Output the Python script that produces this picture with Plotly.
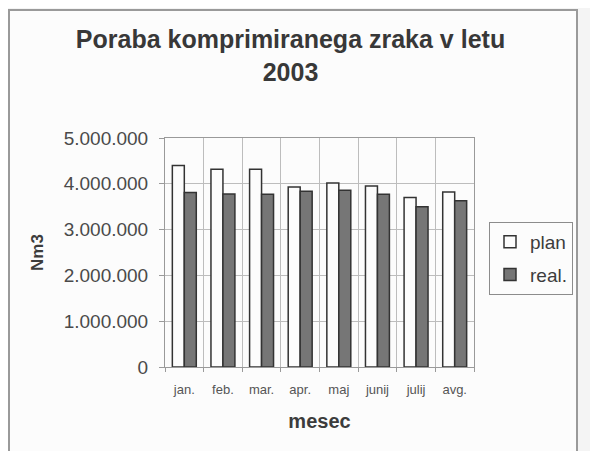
import plotly.graph_objects as go

# data
months = ["jan.", "feb.", "mar.", "apr.", "maj", "junij", "julij", "avg."]
plan = [4400000, 4320000, 4320000, 3930000, 4020000, 3950000, 3700000, 3820000]
real = [3810000, 3780000, 3770000, 3840000, 3860000, 3770000, 3500000, 3630000]

# page body has an 8px margin, so the figure is a bit smaller than the window
W, H = 590, 443
# plot area in figure pixels
L, R, T, B = 157, 466, 130, 359

def px_x(x):
    return (x - L) / (R - L)

def px_y(y):
    return (B - y) / (B - T)

fig = go.Figure()
fig.add_trace(go.Bar(
    name="plan", x=months, y=plan, legendgroup="plan",
    marker=dict(color="#fcfcfc", line=dict(color="#333333", width=1.5)),
))
fig.add_trace(go.Bar(
    name="real.", x=months, y=real, legendgroup="real",
    marker=dict(color="#767676", line=dict(color="#333333", width=1.5)),
))

# chart frame
fig.add_shape(
    type="rect", xref="paper", yref="paper", layer="below",
    x0=px_x(1), x1=px_x(569), y0=px_y(470), y1=px_y(2),
    line=dict(color="#9a9a9a", width=2), fillcolor="#fcfcfc",
)

fig.update_layout(
    width=W, height=H,
    margin=dict(l=L, r=W - R, t=T, b=H - B),
    paper_bgcolor="#f4f4f4",
    plot_bgcolor="#fcfcfc",
    font=dict(family="Liberation Sans, Arial, sans-serif", color="#3c3c3c"),
    separators=",.",
    barmode="group",
    bargap=0.38,
    bargroupgap=0,
    title=dict(
        text="<b>Poraba komprimiranega zraka v letu<br>2003</b>",
        x=282.5 / W, xanchor="center", xref="container",
        y=1 - 40 / H, yanchor="top", yref="container",
        font=dict(size=25, color="#383838"),
    ),
    legend=dict(
        x=px_x(481), xanchor="left", y=px_y(214), yanchor="top",
        bordercolor="#8c8c8c", borderwidth=1, bgcolor="#fcfcfc",
        font=dict(size=19, color="#3c3c3c"),
        tracegroupgap=5,
    ),
    showlegend=True,
)

fig.update_xaxes(
    type="category", tickson="boundaries",
    showgrid=True, gridcolor="#bdbdbd", gridwidth=1,
    showline=True, linecolor="#9a9a9a", mirror=True,
    ticks="outside", ticklen=4, tickcolor="#9a9a9a",
    ticklabelstandoff=10,
    tickfont=dict(size=13, color="#555555"),
    title=dict(text="<b>mesec</b>", font=dict(size=20, color="#3c3c3c"), standoff=18),
)
fig.update_yaxes(
    range=[0, 5000000], dtick=1000000, tickformat=",d",
    showgrid=True, gridcolor="#bdbdbd", gridwidth=1,
    showline=True, linecolor="#9a9a9a", mirror=True,
    ticks="outside", ticklen=5, tickcolor="#9a9a9a",
    ticklabelstandoff=7,
    tickfont=dict(size=19, color="#4a4a4a"),
    zeroline=False,
    title=dict(text="<b>Nm3</b>", font=dict(size=17, color="#3c3c3c"), standoff=15),
)

fig.write_html("out.html")
